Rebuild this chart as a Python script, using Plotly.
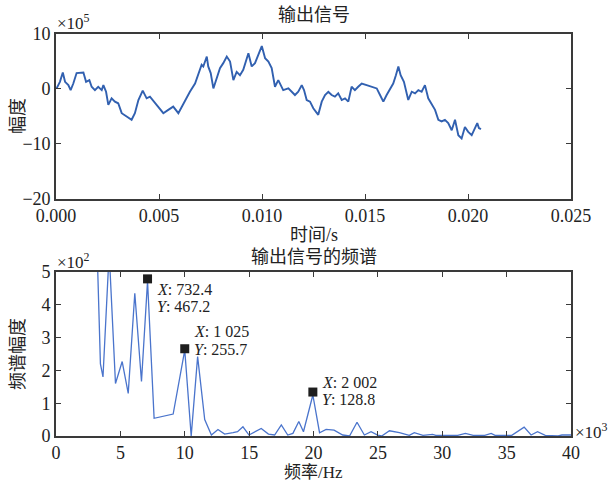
import plotly.graph_objects as go

# ---- top panel: output signal (amplitude in units of 1e5) ----
sig_t = [0.00003, 0.00019, 0.00033, 0.00044, 0.00060, 0.00071, 0.00084, 0.00100, 0.00133, 0.00146,
         0.00162, 0.00173, 0.00189, 0.00205, 0.00222, 0.00230, 0.00243, 0.00254, 0.00270, 0.00286,
         0.00302, 0.00319, 0.00343, 0.00367, 0.00383, 0.00400, 0.00421, 0.00440, 0.00456, 0.00489,
         0.00521, 0.00545, 0.00569, 0.00594, 0.00610, 0.00634, 0.00650, 0.00675, 0.00691, 0.00707,
         0.00715, 0.00732, 0.00739, 0.00751, 0.00764, 0.00780, 0.00796, 0.00812, 0.00829, 0.00845,
         0.00861, 0.00877, 0.00893, 0.00909, 0.00934, 0.00950, 0.00966, 0.00982, 0.00999, 0.01015,
         0.01031, 0.01047, 0.01063, 0.01079, 0.01103, 0.01128, 0.01144, 0.01160, 0.01176, 0.01193,
         0.01204, 0.01217, 0.01233, 0.01249, 0.01273, 0.01290, 0.01306, 0.01322, 0.01338, 0.01354,
         0.01370, 0.01387, 0.01403, 0.01419, 0.01435, 0.01451, 0.01467, 0.01484, 0.01508, 0.01532,
         0.01557, 0.01573, 0.01589, 0.01605, 0.01621, 0.01637, 0.01650, 0.01662, 0.01673, 0.01689,
         0.01710, 0.01727, 0.01743, 0.01759, 0.01775, 0.01791, 0.01807, 0.01824, 0.01840, 0.01856,
         0.01872, 0.01888, 0.01904, 0.01921, 0.01937, 0.01953, 0.01969, 0.01985, 0.02001, 0.02018,
         0.02034, 0.02045, 0.02053, 0.02063]
sig_v = [0.1, 1.3, 3.0, 1.3, 0.7, -0.2, 1.0, 2.9, 3.0, 1.3,
         1.6, 0.4, -0.2, 0.4, -0.2, 0.7, -0.5, -2.9, -1.7, -2.3,
         -2.6, -4.4, -5.0, -5.6, -4.4, -2.0, -0.3, -1.7, -1.4, -2.9,
         -4.4, -3.8, -3.2, -4.4, -3.2, -1.4, -0.5, 1.0, 2.9, 4.4,
         4.1, 5.9, 4.1, 2.9, 0.1, 1.9, 3.8, 4.7, 5.9, 5.0,
         1.6, 3.1, 2.5, 3.5, 6.5, 4.1, 4.7, 6.2, 7.8, 5.6,
         5.0, 3.8, 0.4, 1.6, -0.2, 0.1, -0.5, -1.1, -0.5, 0.7,
         -0.2, -2.0, -2.3, -3.5, -4.7, -2.3, -1.1, -0.5, -1.1, -1.4,
         -0.8, -2.0, -1.7, -2.3, 0.4, -0.2, 0.4, 1.0, 0.7, 0.4,
         0.1, -1.1, -2.3, -1.1, 0.1, 1.0, 2.5, 4.1, 2.5, 1.3,
         -2.0, -0.5, -0.8, -0.2, -0.5, 0.7, -1.7, -2.9, -3.8, -5.6,
         -5.9, -5.6, -6.2, -7.5, -5.6, -8.4, -9.0, -6.9, -7.8, -8.4,
         -7.1, -6.2, -7.1, -7.3]
top_xticks = [0.000, 0.005, 0.010, 0.015, 0.020, 0.025]
top_yticks = [-20, -10, 0, 10]

# ---- bottom panel: spectrum (freq in 1e3 Hz, amplitude in 1e2) ----
spec_f = [2.6, 3.2, 3.45, 3.65, 4.13, 4.62, 5.14, 5.61, 6.12, 6.64,
          7.11, 7.62, 9.10, 10.0, 10.5, 11.0, 11.55, 12.07, 12.58, 13.1,
          13.75, 14.1, 14.52, 14.99, 15.94, 16.5, 16.98, 17.5, 18.0, 18.4,
          18.86, 19.22, 19.95, 20.47, 20.98, 21.6, 22.27, 22.8, 23.38, 23.95,
          24.47, 24.98, 25.3, 25.9, 26.67, 27.44, 27.83, 28.5, 29.25, 29.5,
          30.3, 31.2, 31.8, 32.4, 33.3, 33.8, 34.1, 35.4, 36.36, 36.9,
          37.4, 38.0, 39.0, 39.3, 40.0]
spec_a = [8.0, 5.6, 2.2, 1.8, 5.6, 1.6, 2.27, 1.3, 4.35, 1.66,
          4.72, 0.54, 0.67, 2.62, 0.0, 2.42, 0.5, 0.03, 0.2, 0.06,
          0.1, 0.13, 0.28, 0.03, 0.23, 0.06, 0.03, 0.34, 0.03, 0.08,
          0.44, 0.13, 1.25, 0.1, 0.2, 0.18, 0.03, 0.0, 0.42, 0.03,
          0.13, 0.03, 0.0, 0.16, 0.1, 0.02, 0.1, 0.02, 0.05, 0.02,
          0.02, 0.02, 0.08, 0.02, 0.02, 0.08, 0.02, 0.02, 0.27, 0.03,
          0.13, 0.02, 0.0, 0.03, 0.03]
peak_f = [7.11, 10.0, 19.95]
peak_a = [4.79, 2.66, 1.34]
peak_xlabel = ["732.4", "1 025", "2 002"]
peak_ylabel = ["467.2", "255.7", "128.8"]
bot_xticks = [0, 5, 10, 15, 20, 25, 30, 35, 40]
bot_yticks = [0, 1, 2, 3, 4, 5]

FONT = "Liberation Serif, Times New Roman, Noto Sans CJK SC, serif"
AX = "#3a3a3a"

fig = go.Figure()
fig.add_trace(go.Scatter(x=sig_t, y=sig_v, mode="lines",
                         line=dict(color="#3160b0", width=1.9), xaxis="x", yaxis="y",
                         showlegend=False, hoverinfo="skip"))
fig.add_trace(go.Scatter(x=spec_f, y=spec_a, mode="lines",
                         line=dict(color="#4a74cc", width=1.3), xaxis="x2", yaxis="y2",
                         showlegend=False, hoverinfo="skip", cliponaxis=True))
fig.add_trace(go.Scatter(x=peak_f, y=peak_a, mode="markers",
                         marker=dict(symbol="square", size=9, color="#1e1e1e"),
                         xaxis="x2", yaxis="y2", showlegend=False, hoverinfo="skip",
                         cliponaxis=False))

axis_common = dict(showline=True, linecolor=AX, linewidth=1.6, mirror="allticks",
                   ticks="inside", ticklen=5, tickwidth=1.3, tickcolor=AX,
                   showgrid=False, zeroline=False,
                   tickfont=dict(family=FONT, size=18, color="#222"))

fig.update_layout(
    width=613, height=483,
    margin=dict(l=56, r=42, t=34, b=47),
    paper_bgcolor="white", plot_bgcolor="white",
    font=dict(family=FONT, color="#222"),
    xaxis=dict(domain=[0, 1], range=[0, 0.025], anchor="y", tickvals=top_xticks,
               tickformat=".3f", **axis_common),
    yaxis=dict(domain=[0.5896, 1], range=[-20, 10], anchor="x", tickvals=top_yticks,
               **axis_common),
    xaxis2=dict(domain=[0, 1], range=[0, 40], anchor="y2", tickvals=bot_xticks,
                **axis_common),
    yaxis2=dict(domain=[0, 0.408], range=[0, 5], anchor="x2", tickvals=bot_yticks,
                **axis_common),
)

ann = []
def txt(text, x, y, xref="paper", yref="paper", size=18, xanchor="center", yanchor="middle",
        angle=0, xshift=0, yshift=0):
    ann.append(dict(text=text, x=x, y=y, xref=xref, yref=yref, showarrow=False,
                    font=dict(family=FONT, size=size, color="#222"), xanchor=xanchor,
                    yanchor=yanchor, textangle=angle, xshift=xshift, yshift=yshift,
                    borderpad=0))

# titles
txt("输出信号", 0.5, 1 + (34 - 15) / 402)
txt("输出信号的频谱", 0.5, (436 - 257) / 402)
txt("时间/s", 0.5, (436 - 235) / 402)
txt("频率/Hz", 0.5, (436 - 483) / 402, yanchor="bottom", size=17)
txt("幅度", (18 - 56) / 515, (436 - 116) / 402, angle=-90)
txt("频谱幅度", (18 - 56) / 515, (436 - 354) / 402, angle=-90)
# exponent labels
txt("×10<sup>5</sup>", 0.0, 1 + (34 - 22) / 402, size=17, xanchor="left")
txt("×10<sup>2</sup>", 0.0, (436 - 261) / 402, size=17, xanchor="left")
txt("×10<sup>3</sup>", 1.0, (436 - 431) / 402, size=17, xanchor="left", xshift=3)

# data tip labels
y_off_x = [-11, 17, 10]
y_off_y = [-28, -1, -7]
for f, a, lx, ly, ox, oy in zip(peak_f, peak_a, peak_xlabel, peak_ylabel, y_off_x, y_off_y):
    txt("<i>X</i>: " + lx, f, a, xref="x2", yref="y2", size=16, xanchor="left",
        xshift=8, yshift=ox)
    txt("<i>Y</i>: " + ly, f, a, xref="x2", yref="y2", size=16, xanchor="left",
        xshift=8, yshift=oy)

fig.update_layout(annotations=ann)
fig.write_html("out.html")
